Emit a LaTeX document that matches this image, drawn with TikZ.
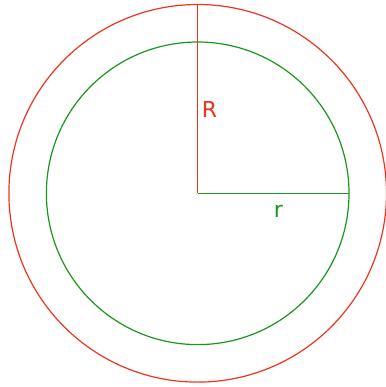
\documentclass[tikz,border=0pt]{standalone}
\usepackage{fontspec}
\setmainfont{DejaVu Sans}
\definecolor{redc}{RGB}{238,52,30}
\definecolor{greenc}{RGB}{26,150,26}
\begin{document}
\begin{tikzpicture}[x=1pt,y=-1pt,
  lbl/.style={inner sep=0pt,anchor=base,font=\fontsize{22}{22}\selectfont},
  ln/.style={line width=1.2pt}]
\useasboundingbox (0,0) rectangle (385,387);
\coordinate (c) at (197.7,193.3);
\coordinate (top) at (197.7,4.5);
\coordinate (rt) at (349.0,193.3);
\draw[ln,redc] (c) circle[radius=188.8];
\draw[ln,greenc] (c) circle[radius=151.3];
\draw[ln,redc] (c) -- (top);
\draw[ln,greenc] (c) -- (rt);
\node[lbl,text=redc] (R) at (209.5,117.7) {R};
\node[lbl,text=greenc] (r) at (278.5,217.3) {r};
\end{tikzpicture}
\end{document}
